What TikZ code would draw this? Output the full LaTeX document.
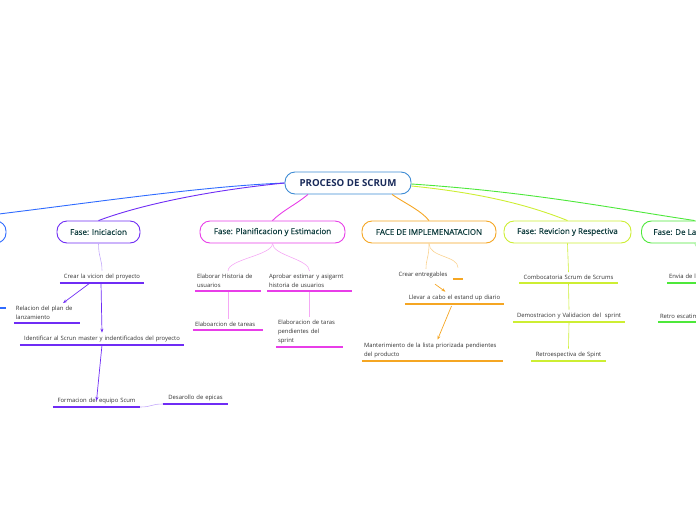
\documentclass[tikz,border=0pt]{standalone}
\usepackage{fontspec}
\setmainfont{Open Sans}
\newfontfamily\phasefont[FakeBold=0.35]{Open Sans}
\usetikzlibrary{arrows.meta}

\definecolor{rootc}{HTML}{3D8BD4}
\definecolor{roottxt}{HTML}{1A2B5A}
\definecolor{phasetxt}{HTML}{0F3D3E}
\definecolor{leaftxt}{HTML}{333333}
\definecolor{bluec}{HTML}{2F6BFF}
\definecolor{purpc}{HTML}{6F2CF5}
\definecolor{magc}{HTML}{E83EE8}
\definecolor{oranc}{HTML}{F5A623}
\definecolor{yelc}{HTML}{CDEE33}
\definecolor{grnc}{HTML}{4DE83A}

\tikzset{
  rootbox/.style={draw=rootc, line width=0.9pt, rounded corners=10pt, fill=white,
    minimum width=126pt, minimum height=22pt, text=roottxt,
    font=\fontsize{9.7}{11}\selectfont\bfseries},
  phase/.style={draw=#1, line width=0.9pt, rounded corners=10pt, fill=white,
    minimum height=22pt, text=phasetxt, font=\phasefont\fontsize{8}{9}\selectfont},
  leaf/.style={font=\fontsize{5.9}{9}\selectfont, text=leaftxt, inner xsep=2pt,
    inner ysep=3pt, anchor=south},
  ul/.style={line width=1.1pt, #1},
  twig/.style={line width=0.6pt, #1},
}

\begin{document}
\begin{tikzpicture}[x=1pt, y=-1pt, >={Stealth[length=4pt, width=3pt]}]
    \useasboundingbox (0,0) rectangle (696,520);
    % Root and phases
    \node[rootbox] (r) at (348,183) {PROCESO DE SCRUM};
    \node[phase=bluec, minimum width=130pt] (lft) at (-59,232) {};
    \node[phase=purpc, minimum width=83pt] (ini) at (98.5,232) {Fase: Iniciacion};
    \node[phase=magc, minimum width=145pt] (pla) at (272.5,232) {Fase: Planificacion y Estimacion};
    \node[phase=oranc, minimum width=134pt] (imp) at (429,232) {FACE DE IMPLEMENATACION};
    \node[phase=yelc, minimum width=127pt] (rev) at (567.5,232) {Fase: Revicion y Respectiva};
    \node[phase=grnc, anchor=west, inner xsep=12pt] (dla) at (641,232) {Fase: De Lanzamiento};
    % Root to phases
    \draw[line width=0.9pt, bluec] (r.west) .. controls +(-100,4) and +(100,-10) .. (lft.north);
    \draw[line width=0.9pt, purpc] (r.west) .. controls +(-80,8) and +(40,-15) .. (ini.north);
    \draw[line width=0.9pt, magc] ([xshift=-40pt]r.south) .. controls +(-12,10) and +(10,-10) .. (pla.north);
    \draw[line width=0.9pt, oranc] ([xshift=44pt]r.south) .. controls +(15,10) and +(-8,-10) .. (imp.north);
    \draw[line width=0.9pt, yelc] ([yshift=-3pt]r.east) .. controls +(80,8) and +(-30,-12) .. (rev.north);
    \draw[line width=0.9pt, grnc] ([yshift=-1pt]r.east) .. controls +(120,8) and +(-80,-12) .. (dla.north);
    % Iniciacion
    \node[leaf, text width=80pt, align=center] (cv) at (102,283) {Crear la vicion del proyecto};
    \node[leaf, text width=62pt, align=left] (rp) at (47,323) {Relacion del plan de\\lanzamiento};
    \node[leaf, text width=160pt, align=center] (im) at (102,345) {Identificar al Scrun master y indentificados del proyecto};
    \node[leaf, text width=83pt, align=center] (fe) at (96.5,407) {Formacion del equipo Scum};
    \node[leaf, text width=61pt, align=center] (de) at (195.5,404) {Desarollo de epicas};
    \node[leaf, minimum width=25pt, inner sep=0pt] (lb) at (-7,308) {};
    \draw[twig=purpc!40] (ini.south) .. controls +(0,14) and +(0,-12) .. (cv.north);
    \draw[->, purpc, line width=0.7pt] ([xshift=-12pt]cv.south) -- ([xshift=16pt]rp.north);
    \draw[->, purpc, line width=0.7pt] ([xshift=-1pt]cv.south) -- (im.north);
    \draw[->, purpc, line width=0.7pt] (im.south) -- (fe.center);
    \draw[twig=purpc!40] (fe.south east) .. controls +(12,0) and +(-12,0) .. (de.south west);
    % Planificacion
    \node[leaf, text width=62pt, align=left] (eh) at (228,291) {Elaborar Historia de\\usuarios};
    \node[leaf, text width=81pt, align=left] (ae) at (309.5,291) {Aprobar estimar y asigarnt\\historia de usuarios};
    \node[leaf, text width=66pt, align=left] (et) at (228,330) {Elaboarcion de tareas};
    \node[leaf, text width=63pt, align=left] (tp) at (309.5,347) {Elaboracion de taras\\pendientes del\\sprint};
    \draw[twig=magc!45] (pla.south) .. controls +(0,12) and +(0,-12) .. (eh.north);
    \draw[twig=magc!45] (pla.south) .. controls +(0,12) and +(0,-12) .. (ae.north);
    \draw[twig=magc!45] (eh.south) -- (et.north);
    \draw[twig=magc!45] (ae.south) -- (tp.north);
    % Implementacion
    \node[leaf, anchor=center] (ce) at (423,275) {Crear entregables};
    \node[leaf, minimum width=10pt, minimum height=11pt, inner sep=0pt] (ex) at (458,279) {};
    \node[leaf, text width=95pt, align=center] (ll) at (454.5,304) {Llevar a cabo el estand up diario};
    \node[leaf, text width=137pt, align=left] (mt) at (432.5,361) {Manterimiento de la lista priorizada pendientes\\del producto};
    \draw[twig=oranc!50] (imp.south) .. controls +(0,14) and +(0,-10) .. ([xshift=3pt]ce.north);
    \draw[twig=oranc!50] (imp.south) .. controls +(0,14) and +(0,-12) .. (ex.north);
    \draw[->, oranc, line width=0.7pt] ([xshift=12pt,yshift=-3pt]ce.south) -- ([xshift=-9pt]ll.north);
    \draw[->, oranc, line width=0.7pt] ([xshift=-3pt,yshift=-2pt]ll.south) -- ([xshift=5pt]mt.north);
    % Revicion
    \node[leaf, text width=95pt, align=center] (cs) at (568.5,283) {Combocatoria Scrum de Scrums};
    \node[leaf, text width=108pt, align=center] (dv) at (569,322) {Demostracion y Validacion del\ \ sprint};
    \node[leaf, text width=71pt, align=center] (rs) at (568.5,361) {Retroespectiva de Spint};
    \draw[twig=yelc] (rev.south) -- (cs.north);
    \draw[twig=yelc] (cs.south) -- (dv.north);
    \draw[twig=yelc] (dv.south) -- (rs.north);
    % De Lanzamiento
    \node[leaf, text width=80pt, align=left] (en) at (709,283) {Envia de la entrega};
    \node[leaf, text width=80pt, align=left] (rt) at (700,322) {Retro escatimacion};
    \draw[twig=grnc!60] (dla.south) -- (en.north);
    \draw[twig=grnc!60] (en.south) -- (rt.north);
    % Underlines
    \foreach \n/\c in {cv/purpc, rp/purpc, im/purpc, fe/purpc, de/purpc, lb/bluec,
                       eh/magc, ae/magc, et/magc, tp/magc, ex/oranc, ll/oranc, mt/oranc,
                       cs/yelc, dv/yelc, rs/yelc, en/grnc, rt/grnc} {
      \draw[ul=\c] (\n.south west) -- (\n.south east);
    }
  \end{tikzpicture}
\end{document}
